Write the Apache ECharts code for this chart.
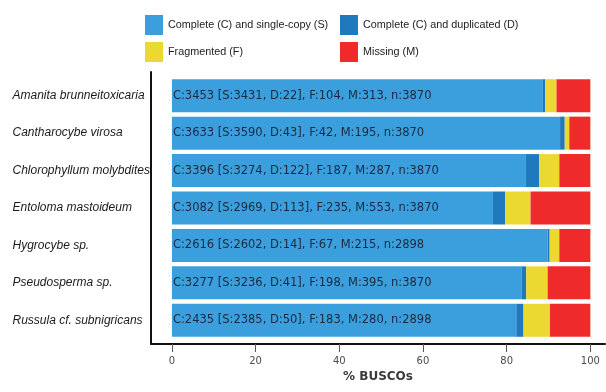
<!DOCTYPE html>
<html>
<head>
<meta charset="utf-8">
<script src="https://cdn.jsdelivr.net/npm/echarts@6/dist/echarts.min.js"></script>
<style>
  html, body { margin: 0; padding: 0; background: #ffffff; }
  #chart { width: 606px; height: 392px; }
</style>
</head>
<body>
<div id="chart"></div>
<script>
const species = [
  "Amanita brunneitoxicaria",
  "Cantharocybe virosa",
  "Chlorophyllum molybdites",
  "Entoloma mastoideum",
  "Hygrocybe sp.",
  "Pseudosperma sp.",
  "Russula cf. subnigricans"
];
const completeC   = [3453, 3633, 3396, 3082, 2616, 3277, 2435];
const singleS     = [3431, 3590, 3274, 2969, 2602, 3236, 2385];
const duplicatedD = [22, 43, 122, 113, 14, 41, 50];
const fragmentedF = [104, 42, 187, 235, 67, 198, 183];
const missingM    = [313, 195, 287, 553, 215, 395, 280];
const totalN      = [3870, 3870, 3870, 3870, 2898, 3870, 2898];
const xTicks      = [0, 20, 40, 60, 80, 100];

const seriesNames = [
  "Complete (C) and single-copy (S)",
  "Complete (C) and duplicated (D)",
  "Fragmented (F)",
  "Missing (M)"
];
const colors = ["#3a9fdc", "#1f79bd", "#ebd932", "#ee2b2a"];

function pct(arr) { return arr.map((v, i) => v / totalN[i] * 100); }

const labelText = species.map((s, i) =>
  "C:" + completeC[i] + " [S:" + singleS[i] + ", D:" + duplicatedD[i] + "], F:" +
  fragmentedF[i] + ", M:" + missingM[i] + ", n:" + totalN[i]);

const chart = echarts.init(document.getElementById('chart'), null, { renderer: 'canvas' });

const X_MIN = -5, X_MAX = 103.5;
const gridLeft = 151, gridRight = 1;

const valueSets = [pct(singleS), pct(duplicatedD), pct(fragmentedF), pct(missingM)];

const series = seriesNames.map((name, k) => ({
  name: name,
  type: 'bar',
  stack: 'busco',
  xAxisIndex: 0,
  yAxisIndex: 0,
  barWidth: 33,
  itemStyle: { color: colors[k] },
  emphasis: { disabled: true },
  label: k === 0 ? {
    show: true,
    position: 'insideLeft',
    distance: 1,
    formatter: p => labelText[p.dataIndex],
    color: '#1b2a40',
    fontFamily: 'DejaVu Sans',
    fontSize: 11.5
  } : { show: false },
  data: valueSets[k]
}));

const legendText = { fontFamily: 'Liberation Sans', fontSize: 10.8, color: '#222' };

const option = {
  animation: false,
  backgroundColor: '#ffffff',
  legend: [
    {
      orient: 'vertical', left: 140, top: 10,
      itemWidth: 18, itemHeight: 20, itemGap: 7, icon: 'rect',
      selectedMode: false, textStyle: legendText,
      data: [seriesNames[0], seriesNames[2]]
    },
    {
      orient: 'vertical', left: 335, top: 10,
      itemWidth: 18, itemHeight: 20, itemGap: 7, icon: 'rect',
      selectedMode: false, textStyle: legendText,
      data: [seriesNames[1], seriesNames[3]]
    }
  ],
  grid: [
    { left: gridLeft, right: gridRight, top: 77, height: 262 },
    { left: gridLeft, right: gridRight, top: 72, bottom: 48 }
  ],
  xAxis: [
    {
      gridIndex: 0, type: 'value', min: X_MIN, max: X_MAX,
      axisLine: { show: false }, axisTick: { show: false },
      axisLabel: { show: false }, splitLine: { show: false }
    },
    {
      gridIndex: 1, type: 'value', min: X_MIN, max: X_MAX,
      axisLine: { show: true, lineStyle: { color: '#111', width: 2 } },
      axisTick: { show: true, customValues: xTicks, length: 8, lineStyle: { color: '#555', width: 1 } },
      axisLabel: {
        show: true, customValues: xTicks, margin: 12,
        fontFamily: 'DejaVu Sans', fontSize: 10, color: '#4a4a4a'
      },
      splitLine: { show: false },
      name: '% BUSCOs',
      nameLocation: 'middle',
      nameGap: 24,
      nameTextStyle: { fontFamily: 'DejaVu Sans', fontSize: 12, fontWeight: 'bold', color: '#3a3a3a' }
    }
  ],
  yAxis: [
    {
      gridIndex: 0, type: 'category', inverse: true, data: species,
      axisLine: { show: false }, axisTick: { show: false },
      axisLabel: {
        align: 'left', margin: 138.5,
        fontFamily: 'Liberation Sans', fontStyle: 'italic', fontSize: 12, color: '#1a1a1a'
      }
    },
    {
      gridIndex: 1, type: 'value', min: 0, max: 1,
      axisLine: { show: true, onZero: false, lineStyle: { color: '#111', width: 2 } },
      axisTick: { show: false }, axisLabel: { show: false }, splitLine: { show: false }
    }
  ],
  series: series
};

chart.setOption(option);
</script>
</body>
</html>
